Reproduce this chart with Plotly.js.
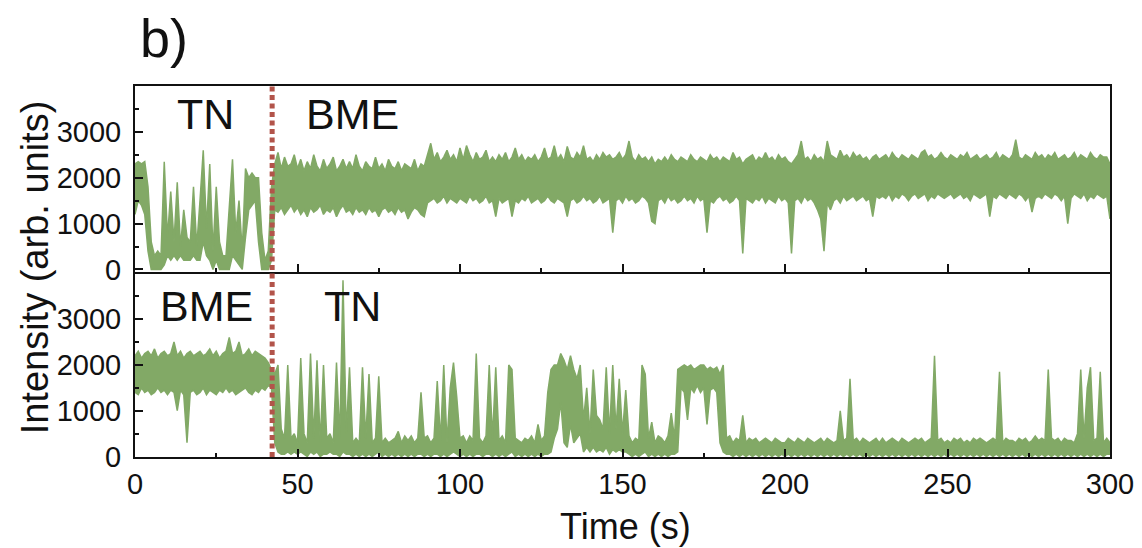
<!DOCTYPE html>
<html>
<head>
<meta charset="utf-8">
<script src="https://cdn.plot.ly/plotly-3.0.1.min.js"></script>
<style>
  html, body { margin: 0; padding: 0; background: #ffffff; }
  #chart { width: 1142px; height: 548px; }
</style>
</head>
<body>
<div id="chart"></div>
<script>
// The traces are dense; for every second (0..300 s) the highest and lowest
// intensity reached within that second was read from the reference picture.
const topHigh = [
  2300, 2350, 2300, 2350, 1800, 600, 300, 400, 300, 2350,
  700, 1700, 600, 1900, 500, 1300, 700, 600, 1800, 500,
  1500, 2600, 900, 2300, 400, 1800, 600, 300, 300, 1400,
  2400, 800, 1500, 400, 2200, 2000, 2100, 2000, 2000, 800,
  200, 400, 1800, 2300, 2550, 2200, 2450, 2250, 2300, 2500,
  2200, 2400, 2150, 2350, 2200, 2500, 2250, 2150, 2400, 2200,
  2300, 2450, 2150, 2250, 2400, 2200, 2350, 2200, 2500, 2250,
  2150, 2350, 2250, 2200, 2450, 2200, 2300, 2150, 2400, 2250,
  2200, 2350, 2150, 2300, 2250, 2200, 2400, 2150, 2300, 2250,
  2500, 2750, 2400, 2550, 2350, 2450, 2600, 2400, 2500, 2350,
  2650, 2400, 2700, 2500, 2350, 2550, 2400, 2450, 2600, 2350,
  2450, 2350, 2500, 2400, 2550, 2350, 2450, 2650, 2400, 2500,
  2350, 2450, 2400, 2500, 2350, 2450, 2650, 2400, 2450, 2700,
  2400, 2500, 2350, 2680, 2450, 2400, 2550, 2450, 2700, 2400,
  2450, 2350, 2500, 2400, 2550, 2450, 2500, 2400, 2450, 2550,
  2400, 2500, 2800, 2450, 2350, 2500, 2400, 2450, 2350, 2450,
  2300, 2400, 2350, 2450, 2350, 2500, 2400, 2350, 2450, 2400,
  2350, 2500, 2400, 2350, 2450, 2400, 2350, 2500, 2400, 2450,
  2350, 2450, 2400, 2350, 2550, 2400, 2450, 2300, 2400, 2450,
  2500, 2350, 2450, 2400, 2550, 2400, 2450, 2350, 2500, 2400,
  2450, 2350, 2300, 2400, 2500, 2800, 2400, 2450, 2350, 2500,
  2400, 2450, 2350, 2800, 2500, 2450, 2400, 2600, 2450, 2500,
  2400, 2550, 2450, 2500, 2400, 2450, 2350, 2450, 2500, 2400,
  2450, 2500, 2400, 2550, 2450, 2400, 2500, 2450, 2400, 2500,
  2450, 2400, 2550, 2600, 2450, 2500, 2400, 2450, 2550, 2450,
  2400, 2500, 2450, 2400, 2500, 2450, 2550, 2400, 2450, 2500,
  2400, 2450, 2500, 2400, 2450, 2550, 2400, 2500, 2450, 2400,
  2500, 2830, 2450, 2400, 2500, 2450, 2400, 2550, 2450, 2500,
  2400, 2500, 2450, 2550, 2400, 2450, 2500, 2400, 2450, 2550,
  2400, 2500, 2450, 2400, 2550, 2450, 2400, 2500, 2450, 2450,
  2300
];

const topLow = [
  1200, 1500, 1400, 1200, 400, 0, 0, 0, 0, 100,
  300, 200, 300, 200, 300, 200, 200, 200, 300, 200,
  200, 600, 300, 200, 0, 200, 0, 0, 0, 0,
  300, 200, 100, 0, 700, 1300, 1400, 1500, 600, 0,
  0, 0, 200, 1300, 1250, 1350, 1200, 1300, 1400, 1250,
  1350, 1200, 1300, 1150, 1350, 1250, 1300, 1400, 1200, 1300,
  1250, 1350, 1150, 1300, 1400, 1250, 1300, 1200, 1350, 1250,
  1300, 1200, 1350, 1250, 1300, 1150, 1300, 1350, 1250, 1300,
  1200, 1350, 1250, 1300, 1100, 1250, 1350, 1300, 1200, 1150,
  1450, 1500, 1550, 1450, 1500, 1600, 1450, 1550, 1500, 1450,
  1550, 1500, 1450, 1600, 1500, 1550, 1450, 1500, 1600, 1450,
  1500, 1150, 1550, 1450, 1500, 1550, 1150, 1500, 1450, 1550,
  1500, 1600, 1450, 1500, 1550, 1450, 1500, 1600, 1500, 1450,
  1550, 1500, 1450, 1150, 1500, 1550, 1450, 1500, 1600, 1500,
  1550, 1450, 1500, 1600, 1450, 1500, 1550, 800, 1500, 1550,
  1450, 1600, 1500, 1550, 1450, 1500, 1600, 1550, 1450, 1050,
  1000, 1500, 1550, 1450, 1600, 1500, 1550, 1450, 1500, 1600,
  1500, 1550, 1450, 1600, 1500, 1550, 800, 1500, 1450, 1550,
  1600, 1500, 1550, 1450, 1500, 1600, 1500, 350, 1550, 1500,
  1450, 1550, 1500, 1600, 1450, 1550, 1500, 1450, 1600, 1500,
  1550, 1450, 350, 1500, 1550, 1450, 1600, 1500, 1550, 1450,
  1300, 1100, 400, 1450, 1300, 1500, 1550, 1450, 1600, 1500,
  1550, 1600, 1500, 1550, 1600, 1500, 1550, 1150, 1600, 1550,
  1600, 1550, 1650, 1500, 1600, 1550, 1650, 1600, 1500, 1600,
  1650, 1550, 1600, 1650, 1500, 1600, 1550, 1650, 1600, 1550,
  1600, 1650, 1550, 1600, 1650, 1550, 1600, 1500, 1650, 1600,
  1550, 1600, 1650, 1150, 1600, 1550, 1650, 1600, 1550, 1650,
  1600, 1550, 1650, 1600, 1500, 1600, 1250, 1550, 1600, 1550,
  1650, 1600, 1550, 1650, 1600, 1500, 1600, 1000, 1550, 1650,
  1600, 1550, 1650, 1500, 1600, 1550, 1650, 1600, 1550, 1600,
  1100
];

const bottomHigh = [
  2200, 2300, 2150, 2250, 2300, 2200, 2350, 2150, 2250, 2300,
  2200, 2250, 2500, 2200, 2300, 2150, 2250, 2300, 2200, 2250,
  2300, 2200, 2250, 2350, 2200, 2300, 2150, 2250, 2300, 2600,
  2250, 2300, 2500, 2200, 2250, 2350, 2200, 2300, 2250, 2200,
  2150, 2050, 1900, 1800, 2000, 600, 400, 2000, 400, 500,
  300, 2150, 500, 300, 2250, 400, 2100, 300, 2000, 400,
  500, 300, 2050, 400, 3850, 500, 1950, 300, 400, 300,
  1950, 400, 1800, 300, 400, 1750, 300, 400, 300, 350,
  400, 550, 300, 450, 350, 450, 300, 400, 1400, 400,
  450, 300, 400, 1650, 350, 2000, 300, 1500, 2050, 1300,
  400, 450, 300, 450, 350, 2250, 400, 300, 450, 2000,
  400, 1950, 350, 450, 300, 2000, 1900, 400, 350, 300,
  400, 350, 450, 300, 700, 350, 450, 1400, 1900, 2000,
  2000, 2250, 2100, 1900, 2200, 1900, 1700, 2000, 800, 1500,
  500, 1900, 900, 800, 600, 1950, 500, 2000, 600, 1700,
  500, 1450, 450, 300, 400, 350, 2000, 1800, 400, 750,
  300, 450, 400, 300, 450, 950, 400, 1900, 1950, 2000,
  1950, 2000, 1900, 1950, 2000, 2000, 1900, 1950, 1900, 1950,
  1800, 2000, 400, 450, 300, 400, 350, 900, 300, 400,
  350, 400, 300, 350, 400, 350, 300, 400, 350, 300,
  300, 400, 350, 300, 400, 350, 300, 400, 350, 300,
  350, 400, 300, 400, 350, 300, 350, 1000, 350, 400,
  1700, 350, 400, 300, 400, 350, 300, 350, 400, 300,
  400, 300, 350, 400, 350, 300, 400, 350, 300, 350,
  400, 350, 400, 300, 350, 400, 2200, 350, 400, 300,
  350, 300, 400, 350, 400, 300, 350, 300, 400, 350,
  400, 350, 300, 350, 400, 350, 1850, 300, 400, 350,
  350, 300, 400, 350, 400, 300, 350, 450, 350, 400,
  350, 1900, 400, 350, 400, 300, 400, 350, 350, 300,
  500, 1900, 400, 1500, 1950, 350, 400, 1850, 300, 400,
  300
];

const bottomLow = [
  1400, 1350, 1500, 1400, 1450, 1350, 1400, 1500, 1400, 1450,
  1350, 1450, 1400, 1000, 1450, 1350, 300, 1400, 1450, 1350,
  1400, 1500, 1350, 1450, 1400, 1350, 1450, 1400, 1500, 1400,
  1450, 1350, 1400, 1450, 1500, 1400, 1350, 1450, 1400, 1500,
  1450, 1550, 1500, 300, 100, 50, 50, 100, 50, 100,
  50, 100, 50, 0, 100, 50, 100, 0, 50, 50,
  100, 50, 50, 0, 100, 50, 50, 0, 50, 0,
  50, 0, 50, 0, 50, 100, 0, 50, 0, 50,
  0, 50, 0, 50, 0, 50, 0, 50, 50, 0,
  50, 0, 50, 50, 0, 50, 0, 50, 100, 50,
  0, 50, 0, 50, 0, 50, 50, 0, 50, 50,
  0, 50, 0, 50, 0, 50, 100, 0, 50, 0,
  50, 0, 50, 0, 50, 0, 50, 50, 100, 400,
  600, 1200, 300, 200, 700, 300, 400, 500, 100, 200,
  100, 200, 100, 150, 100, 200, 50, 150, 100, 150,
  100, 100, 50, 0, 50, 0, 50, 100, 0, 50,
  0, 50, 0, 50, 0, 50, 50, 100, 1500, 1400,
  800, 1500, 1400, 1550, 1400, 1500, 700, 1450, 1500, 1400,
  300, 100, 50, 50, 0, 50, 0, 50, 0, 50,
  0, 50, 0, 50, 0, 50, 0, 50, 0, 50,
  0, 50, 0, 50, 0, 50, 0, 50, 0, 50,
  0, 50, 0, 50, 0, 50, 0, 50, 0, 50,
  0, 50, 0, 50, 0, 50, 0, 50, 0, 50,
  0, 50, 0, 50, 0, 50, 0, 50, 0, 50,
  0, 50, 0, 50, 0, 50, 0, 50, 0, 50,
  0, 50, 0, 50, 0, 50, 0, 50, 0, 50,
  0, 50, 0, 50, 0, 50, 0, 50, 0, 50,
  0, 50, 0, 50, 0, 50, 0, 50, 0, 50,
  0, 50, 0, 50, 0, 50, 0, 50, 0, 50,
  0, 50, 0, 50, 0, 50, 0, 50, 0, 50,
  50
];

const time = topHigh.map((_, i) => i);  // seconds, one reading per second

const switchTime = 42.2;            // dotted marker between regimes
const yTickVals = [0, 1000, 2000, 3000];
const yTickText = ['0', '1000', '2000', '3000'];
const xTickVals = [0, 50, 100, 150, 200, 250, 300];

const topLabels = ['TN', 'BME'];
const bottomLabels = ['BME', 'TN'];

const green = '#82a966';
const font = 'Liberation Sans, Arial, Helvetica, sans-serif';

function band(lo, hi, xa, ya) {
  return [
    { x: time, y: lo, xaxis: xa, yaxis: ya, type: 'scatter', mode: 'lines',
      line: { color: green, width: 1.5 }, hoverinfo: 'skip' },
    { x: time, y: hi, xaxis: xa, yaxis: ya, type: 'scatter', mode: 'lines',
      fill: 'tonexty', fillcolor: green,
      line: { color: green, width: 1.5 }, hoverinfo: 'skip' }
  ];
}

const traces = band(topLow, topHigh, 'x2', 'y2').concat(band(bottomLow, bottomHigh, 'x', 'y'));

const axisCommon = {
  showline: true, linecolor: '#111', linewidth: 2, mirror: true,
  showgrid: false, zeroline: false, ticks: 'inside', tickcolor: '#111',
  tickwidth: 2, ticklen: 8
};

const layout = {
  width: 1142, height: 548,
  margin: { l: 135, r: 32, t: 86, b: 91 },
  paper_bgcolor: '#ffffff', plot_bgcolor: '#ffffff',
  showlegend: false,
  font: { family: font, color: '#111', size: 28 },
  xaxis: Object.assign({}, axisCommon, {
    domain: [0, 1], anchor: 'y', range: [0, 300], mirror: false,
    tickvals: xTickVals, ticktext: xTickVals.map(String),
    tickfont: { size: 29, family: font, color: '#111' },
    minor: { ticks: 'inside', tickvals: [25, 75, 125, 175, 225, 275], ticklen: 4, tickcolor: '#111', tickwidth: 2 }
  }),
  xaxis2: Object.assign({}, axisCommon, {
    domain: [0, 1], anchor: 'y2', range: [0, 300], matches: 'x',
    tickvals: xTickVals, showticklabels: false,
    minor: { ticks: 'inside', tickvals: [25, 75, 125, 175, 225, 275], ticklen: 4, tickcolor: '#111', tickwidth: 2 }
  }),
  yaxis: Object.assign({}, axisCommon, {
    domain: [0, 0.5], anchor: 'x', range: [-10, 4040],
    tickvals: yTickVals, ticktext: yTickText, ticklabelstandoff: 6,
    tickfont: { size: 29, family: font, color: '#111' },
    minor: { ticks: 'inside', tickvals: [500, 1500, 2500, 3500], ticklen: 4, tickcolor: '#111', tickwidth: 2 }
  }),
  yaxis2: Object.assign({}, axisCommon, {
    domain: [0.5, 1], anchor: 'x2', range: [-45, 4000],
    tickvals: yTickVals, ticktext: yTickText, ticklabelstandoff: 6,
    tickfont: { size: 29, family: font, color: '#111' },
    minor: { ticks: 'inside', tickvals: [500, 1500, 2500, 3500], ticklen: 4, tickcolor: '#111', tickwidth: 2 }
  }),
  shapes: [
    { type: 'line', xref: 'x', yref: 'paper', x0: switchTime, x1: switchTime, y0: 0, y1: 1,
      line: { color: 'rgb(178,84,74)', width: 5, dash: '5px,3.5px' } }
  ],
  annotations: [
    { text: 'b)', xref: 'paper', yref: 'paper', x: 0.003, y: 1.13, xanchor: 'left', yanchor: 'middle',
      showarrow: false, font: { size: 54, family: font, color: '#111' } },
    { text: topLabels[0], xref: 'x2', yref: 'y2', x: 21.7, y: 3380, xanchor: 'center', yanchor: 'middle',
      showarrow: false, font: { size: 43, family: font, color: '#111' } },
    { text: topLabels[1], xref: 'x2', yref: 'y2', x: 67, y: 3380, xanchor: 'center', yanchor: 'middle',
      showarrow: false, font: { size: 43, family: font, color: '#111' } },
    { text: bottomLabels[0], xref: 'x', yref: 'y', x: 22, y: 3290, xanchor: 'center', yanchor: 'middle',
      showarrow: false, font: { size: 43, family: font, color: '#111' } },
    { text: bottomLabels[1], xref: 'x', yref: 'y', x: 67, y: 3290, xanchor: 'center', yanchor: 'middle',
      showarrow: false, font: { size: 43, family: font, color: '#111' } },
    { text: 'Intensity (arb. units)', xref: 'paper', yref: 'paper', x: -0.103, y: 0.51,
      xanchor: 'center', yanchor: 'middle', textangle: -90, showarrow: false,
      font: { size: 38, family: font, color: '#111' } },
    { text: 'Time (s)', xref: 'paper', yref: 'paper', x: 0.503, y: -0.186,
      xanchor: 'center', yanchor: 'middle', showarrow: false,
      font: { size: 36, family: font, color: '#111' } }
  ]
};

Plotly.newPlot('chart', traces, layout, { displayModeBar: false, staticPlot: true });
</script>
</body>
</html>
